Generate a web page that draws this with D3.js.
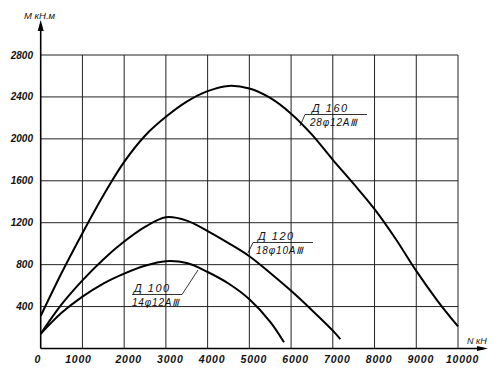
<!DOCTYPE html>
<html><head><meta charset="utf-8">
<script src="https://cdn.jsdelivr.net/npm/d3@7"></script>
<style>
body{margin:0;background:#fff;}
svg text{font-family:"Liberation Sans",Arial,sans-serif;font-style:italic;fill:#111;}
</style></head>
<body><svg id="c" width="497" height="377"></svg>
<script>
// ---- data ----
const xTicks = [0,1000,2000,3000,4000,5000,6000,7000,8000,9000,10000];
const yTicks = [400,800,1200,1600,2000,2400,2800];
const d160N = [0,500,1000,1500,2000,2500,3000,3500,4000,4500,5000,5500,6000,6500,7000,7500,8000,8500,9000,9500,10000];
const d160M = [310,720,1100,1460,1780,2030,2210,2355,2455,2505,2480,2390,2240,2040,1800,1570,1330,1050,740,460,210];
const d120N = [0,500,1000,1500,2000,2500,3000,3500,4000,4500,5000,5500,6000,6500,7000,7180];
const d120M = [140,420,650,850,1020,1160,1252,1220,1120,1005,880,720,550,365,170,90];
const d100N = [0,500,1000,1500,2000,2500,3000,3500,4000,4500,5000,5500,5830];
const d100M = [140,340,495,620,715,790,833,815,730,620,470,255,60];
const labels = [
  {top:"Д 160", bottom:"28φ12АⅢ"},
  {top:"Д 120", bottom:"18φ10АⅢ"},
  {top:"Д 100", bottom:"14φ12АⅢ"}
];

const svg = d3.select("#c");
const x = d3.scaleLinear().domain([0,10000]).range([40.7,458]);
const y = d3.scaleLinear().domain([0,2800]).range([348.5,55]);

// grid
const g = svg.append("g");
g.selectAll("line.h").data(yTicks).join("line")
  .attr("x1",x(0)).attr("x2",x(10000)).attr("y1",d=>y(d)).attr("y2",d=>y(d))
  .attr("stroke","#222").attr("stroke-width",1);
g.selectAll("line.v").data(xTicks.slice(1)).join("line")
  .attr("x1",d=>x(d)).attr("x2",d=>x(d)).attr("y1",y(0)).attr("y2",y(2800))
  .attr("stroke","#222").attr("stroke-width",1);

// axes
svg.append("line").attr("x1",x(0)).attr("x2",x(0)).attr("y1",y(0)).attr("y2",24)
  .attr("stroke","#000").attr("stroke-width",1.6);
svg.append("path").attr("d",`M${x(0)},20 L${x(0)-3},31 L${x(0)+3},31 Z`).attr("fill","#000");
svg.append("line").attr("x1",x(0)).attr("x2",484).attr("y1",y(0)).attr("y2",y(0))
  .attr("stroke","#000").attr("stroke-width",1.6);
svg.append("path").attr("d",`M488,${y(0)} L477,${y(0)-2.5} L477,${y(0)+2.5} Z`).attr("fill","#000");

// tick labels
svg.selectAll("text.yt").data(yTicks).join("text")
  .attr("x",33).attr("y",d=>y(d)+3.5).attr("text-anchor","end")
  .attr("font-size",10).attr("font-weight","bold").text(d=>d);
svg.selectAll("text.xt").data(xTicks).join("text")
  .attr("x",(d,i)=>i===0?x(d)-3:(i===1?x(d)-4:x(d)+4.5)).attr("y",363).attr("text-anchor","middle")
  .attr("font-size",10.5).attr("font-weight","bold").attr("letter-spacing",0.8).text(d=>d);

// axis titles
svg.append("text").attr("x",24).attr("y",19).attr("font-size",9.5).text("M кН.м");
svg.append("text").attr("x",467).attr("y",344).attr("font-size",9).text("N кН");

// curves
const line = d3.line().x(d=>x(d[0])).y(d=>y(d[1])).curve(d3.curveCatmullRom.alpha(0.5));
[[d160N,d160M],[d120N,d120M],[d100N,d100M]].forEach(([n,m])=>{
  svg.append("path").datum(n.map((v,i)=>[v,m[i]])).attr("d",line)
    .attr("fill","none").attr("stroke","#000").attr("stroke-width",2);
});

// curve labels
function lab(l, tx, ty, barX1, barX2, leadX, leadY){
  svg.append("text").attr("x",tx).attr("y",ty).attr("font-size",11).attr("letter-spacing",1.5).text(l.top);
  svg.append("text").attr("x",tx-2).attr("y",ty+14).attr("font-size",10).attr("letter-spacing",0.8).text(l.bottom);
  svg.append("line").attr("x1",barX1).attr("x2",barX2).attr("y1",ty+2.5).attr("y2",ty+2.5)
    .attr("stroke","#000").attr("stroke-width",0.8);
  svg.append("line").attr("x1",leadX[0]).attr("y1",leadX[1]).attr("x2",leadY[0]).attr("y2",leadY[1])
    .attr("stroke","#000").attr("stroke-width",0.8);
}
lab(labels[0], 312, 112, 305, 367, [305,114.5], [300,126]);
lab(labels[1], 258, 240, 253, 313, [253,242.5], [248,253]);
lab(labels[2], 134, 292, 132, 182, [182,294.5], [198,270]);
</script></body></html>
